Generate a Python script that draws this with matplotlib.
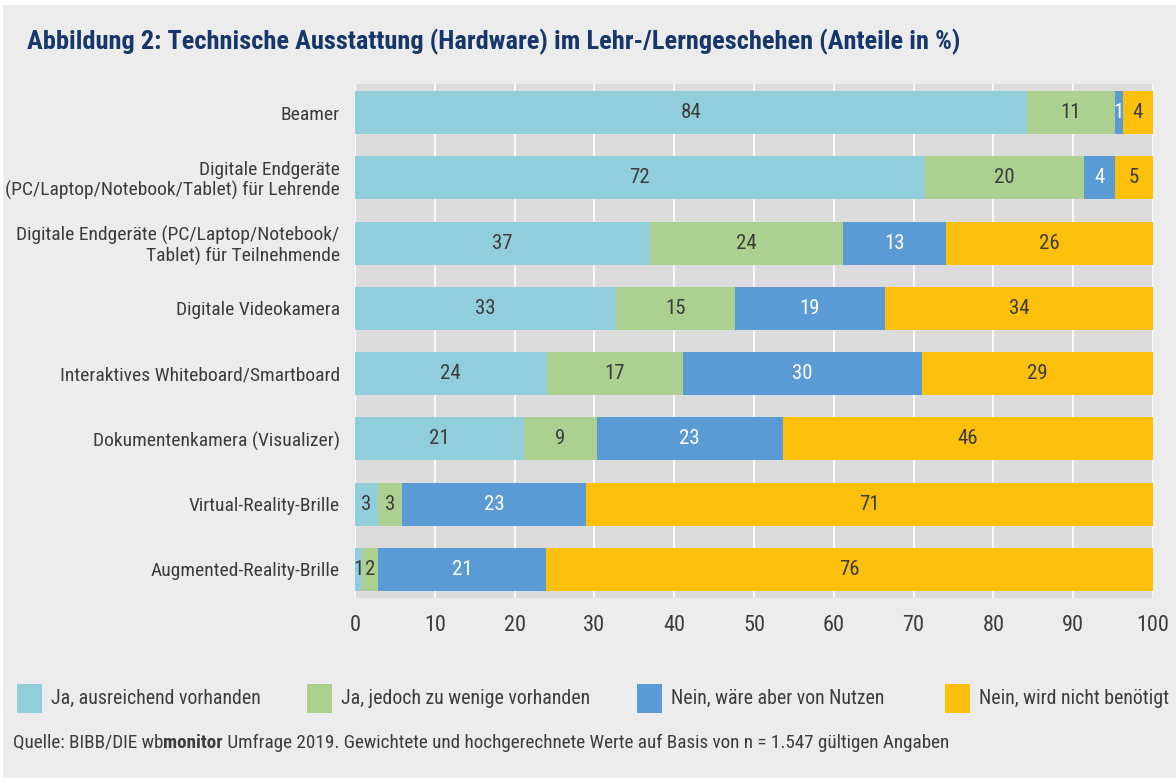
import matplotlib
matplotlib.use("Agg")
import matplotlib.pyplot as plt
from matplotlib.patches import Rectangle
import numpy as np

plt.rcParams['font.family'] = ['Liberation Sans Narrow', 'Roboto Condensed', 'DejaVu Sans']

categories = ["Beamer",
              "Digitale Endgeräte\n(PC/Laptop/Notebook/Tablet) für Lehrende",
              "Digitale Endgeräte (PC/Laptop/Notebook/\nTablet) für Teilnehmende",
              "Digitale Videokamera",
              "Interaktives Whiteboard/Smartboard",
              "Dokumentenkamera (Visualizer)",
              "Virtual-Reality-Brille",
              "Augmented-Reality-Brille"]

series = ["Ja, ausreichend vorhanden", "Ja, jedoch zu wenige vorhanden",
          "Nein, wäre aber von Nutzen", "Nein, wird nicht benötigt"]

# segment widths, shown labels are the rounded values
ja_ausreichend = [84.2, 71.4, 37.0, 32.7, 24.0, 21.2, 2.9, 0.9]
ja_zu_wenig = [11.0, 19.9, 24.1, 14.9, 17.1, 9.1, 3.0, 2.0]
nein_nutzen = [1.0, 3.9, 13.0, 18.8, 30.0, 23.3, 23.0, 21.0]
nein_nicht = [3.8, 4.8, 25.9, 33.6, 28.9, 46.4, 71.1, 76.1]

lbl_ausreichend = [84, 72, 37, 33, 24, 21, 3, 1]
lbl_zu_wenig = [11, 20, 24, 15, 17, 9, 3, 2]
lbl_nutzen = [1, 4, 13, 19, 30, 23, 23, 21]
lbl_nicht = [4, 5, 26, 34, 29, 46, 71, 76]

colors = ["#92cddc", "#abd090", "#5b9bd5", "#fcc00c"]
text_colors = ["#3c3c3c", "#3c3c3c", "white", "#3c3c3c"]
ticks = [0, 10, 20, 30, 40, 50, 60, 70, 80, 90, 100]

W, H = 1176, 778
fig = plt.figure(figsize=(W / 100, H / 100), dpi=100)
fig.patch.set_facecolor("white")
fig.patches.append(Rectangle((3 / W, 0), 1, 1 - 5 / H, transform=fig.transFigure,
                             facecolor="#ececec", edgecolor="none", zorder=-10))

ax = fig.add_axes([355 / W, 1 - 598 / H, (1153 - 355) / W, (598 - 84) / H])
ax.set_facecolor("#dcdcdc")

y = np.arange(len(categories))
vals = [ja_ausreichend, ja_zu_wenig, nein_nutzen, nein_nicht]
lbls = [lbl_ausreichend, lbl_zu_wenig, lbl_nutzen, lbl_nicht]
left = np.zeros(len(categories))
for v, l, c, tc in zip(vals, lbls, colors, text_colors):
    v = np.array(v)
    ax.barh(y, v, left=left, height=0.66, color=c, zorder=3)
    for yi, (lf, w, t) in enumerate(zip(left, v, l)):
        ax.text(lf + w / 2, yi, str(t), ha="center", va="center",
                color=tc, fontsize=15, zorder=4)
    left += v

ax.set_xlim(0, 100)
ax.set_ylim(7.44, -0.44)
ax.set_xticks(ticks)
ax.set_yticks(y)
ax.set_yticklabels(categories, ha="right", multialignment="right", linespacing=1.1)
ax.tick_params(axis="x", length=0, labelsize=16, colors="#3c3c3c", pad=12)
ax.tick_params(axis="y", length=0, labelsize=14, colors="#3c3c3c", pad=11)
ax.grid(axis="x", color="white", linewidth=1.2, zorder=0)
for s in ax.spines.values():
    s.set_visible(False)

fig.text(27 / W, 1 - 42 / H,
         "Abbildung 2: Technische Ausstattung (Hardware) im Lehr-/Lerngeschehen (Anteile in %)",
         fontsize=19, fontweight="bold", color="#17376a", va="center")

# legend
leg_x = [17, 307, 637, 945]
for x0, name, c in zip(leg_x, series, colors):
    fig.patches.append(Rectangle((x0 / W, 1 - 713 / H), 25 / W, 29 / H,
                                 transform=fig.transFigure, facecolor=c, edgecolor="none"))
    fig.text((x0 + 34) / W, 1 - 698 / H, name, fontsize=14.3, color="#3c3c3c", va="center")

# source line with bold "monitor"
r = fig.canvas.get_renderer()
parts = [("Quelle: BIBB/DIE wb", "normal"), ("monitor", "bold"),
         (" Umfrage 2019. Gewichtete und hochgerechnete Werte auf Basis von n = 1.547 gültigen Angaben", "normal")]
x = 13 / W
for txt, wgt in parts:
    t = fig.text(x, 1 - 748 / H, txt, fontsize=13.8, fontweight=wgt, color="#3c3c3c",
                 va="baseline")
    bb = t.get_window_extent(renderer=r)
    x += bb.width / W

fig.savefig("out.png", dpi=100, facecolor=fig.get_facecolor())
